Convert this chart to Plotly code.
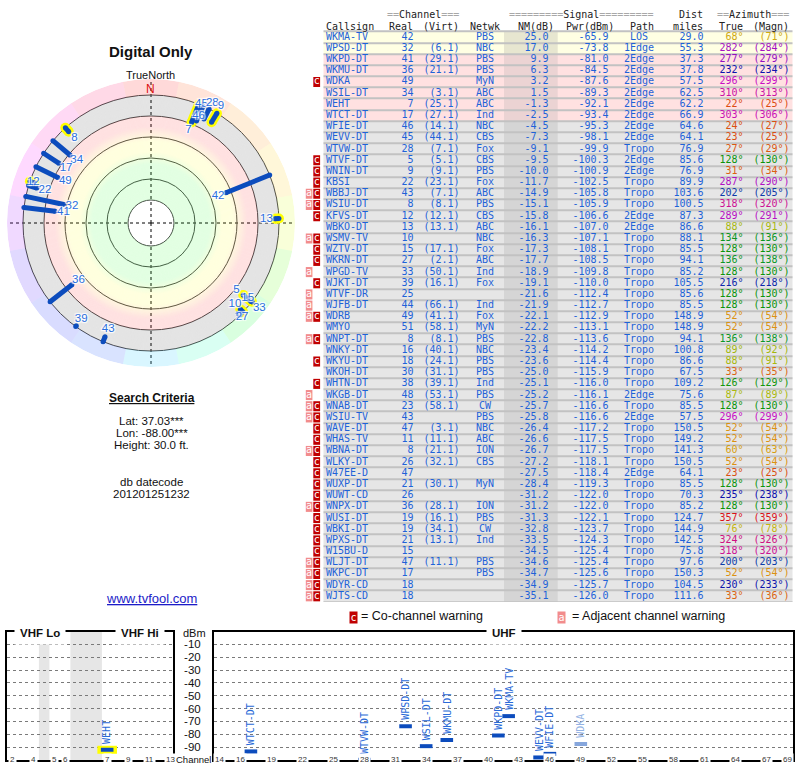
import colorsys
import numpy as np
import plotly.graph_objects as go

W, H = 800, 768
MONO = "DejaVu Sans Mono"
SANS = "Liberation Sans"

# ---- station table (one entry per row) ----
callsign = ["WKMA-TV", "WPSD-DT", "WKPD-DT", "WKMU-DT", "WDKA", "WSIL-DT", "WEHT", "WTCT-DT",
            "WFIE-DT", "WEVV-DT", "WTVW-DT", "WTVF-DT", "WNIN-DT", "KBSI", "WBBJ-DT", "WSIU-DT",
            "KFVS-DT", "WBKO-DT", "WSMV-TV", "WZTV-DT", "WKRN-DT", "WPGD-TV", "WJKT-DT", "WTVF-DR",
            "WJFB-DT", "WDRB", "WMYO", "WNPT-DT", "WNKY-DT", "WKYU-DT", "WKOH-DT", "WHTN-DT",
            "WKGB-DT", "WNAB-DT", "WSIU-TV", "WAVE-DT", "WHAS-TV", "WBNA-DT", "WLKY-DT", "W47EE-D",
            "WUXP-DT", "WUWT-CD", "WNPX-DT", "WUSI-DT", "WBKI-DT", "WPXS-DT", "W15BU-D", "WLJT-DT",
            "WKPC-DT", "WDYR-CD", "WJTS-CD"]
real_ch = [42, 32, 41, 36, 49, 34, 7, 17, 46, 45, 28, 5, 9, 22, 43, 8, 12, 13, 10, 15, 27, 33, 39, 25,
           44, 49, 51, 8, 16, 18, 30, 38, 48, 23, 43, 47, 11, 8, 26, 47, 21, 26, 36, 19, 19, 21, 15, 47,
           17, 18, 18]
virt_ch = ["", "6.1", "29.1", "21.1", "", "3.1", "25.1", "27.1", "14.1", "44.1", "7.1", "5.1", "9.1",
           "23.1", "7.1", "8.1", "12.1", "13.1", "", "17.1", "2.1", "50.1", "16.1", "", "66.1", "41.1",
           "58.1", "8.1", "40.1", "24.1", "31.1", "39.1", "53.1", "58.1", "", "3.1", "11.1", "21.1",
           "32.1", "", "30.1", "", "28.1", "16.1", "34.1", "13.1", "", "11.1", "", "", ""]
network = ["PBS", "NBC", "PBS", "PBS", "MyN", "ABC", "ABC", "Ind", "NBC", "CBS", "Fox", "CBS", "PBS",
           "Fox", "ABC", "PBS", "CBS", "ABC", "NBC", "Fox", "ABC", "Ind", "Fox", "", "Ind", "Fox", "MyN",
           "PBS", "NBC", "PBS", "PBS", "Ind", "PBS", "CW", "PBS", "NBC", "ABC", "ION", "CBS", "", "MyN",
           "", "ION", "PBS", "CW", "Ind", "", "PBS", "PBS", "", ""]
nm_db = [25.0, 17.0, 9.9, 6.3, 3.2, 1.5, -1.3, -2.5, -4.5, -7.3, -9.1, -9.5, -10.0, -11.7, -14.9, -15.1,
         -15.8, -16.1, -16.3, -17.3, -17.7, -18.9, -19.1, -21.6, -21.9, -22.1, -22.2, -22.8, -23.4, -23.6,
         -25.0, -25.1, -25.2, -25.7, -25.8, -26.4, -26.6, -26.7, -27.2, -27.5, -28.4, -31.2, -31.2, -31.3,
         -32.8, -33.5, -34.5, -34.6, -34.7, -34.9, -35.1]
pwr_dbm = [-65.9, -73.8, -81.0, -84.5, -87.6, -89.3, -92.1, -93.4, -95.3, -98.1, -99.9, -100.3, -100.9,
           -102.5, -105.8, -105.9, -106.6, -107.0, -107.1, -108.1, -108.5, -109.8, -110.0, -112.4, -112.7,
           -112.9, -113.1, -113.6, -114.2, -114.4, -115.9, -116.0, -116.1, -116.6, -116.6, -117.2, -117.5,
           -117.5, -118.1, -118.4, -119.3, -122.0, -122.0, -122.1, -123.7, -124.3, -125.4, -125.4, -125.6,
           -125.7, -126.0]
path = ["LOS", "1Edge", "2Edge", "2Edge", "2Edge", "2Edge", "2Edge", "2Edge", "2Edge", "2Edge", "Tropo",
        "2Edge", "2Edge", "Tropo", "Tropo", "Tropo", "2Edge", "2Edge", "Tropo", "Tropo", "Tropo", "Tropo",
        "Tropo", "Tropo", "Tropo", "Tropo", "Tropo", "Tropo", "Tropo", "Tropo", "Tropo", "Tropo", "2Edge",
        "Tropo", "2Edge", "Tropo", "Tropo", "Tropo", "Tropo", "2Edge", "Tropo", "Tropo", "Tropo", "Tropo",
        "Tropo", "Tropo", "Tropo", "Tropo", "Tropo", "Tropo", "Tropo"]
dist_mi = [29.0, 55.3, 37.3, 37.8, 57.5, 62.5, 62.2, 66.9, 64.6, 64.1, 76.9, 85.6, 76.9, 89.9, 103.6,
           100.5, 87.3, 86.6, 88.1, 85.5, 94.1, 85.2, 105.5, 85.6, 85.5, 148.9, 148.9, 94.1, 100.8, 86.6,
           67.5, 109.2, 75.6, 85.5, 57.5, 150.5, 149.2, 141.3, 150.5, 64.1, 85.5, 70.3, 85.2, 124.7, 144.9,
           142.5, 75.8, 97.6, 150.3, 104.5, 111.6]
az_true = [68, 282, 277, 232, 296, 310, 22, 303, 24, 23, 27, 128, 31, 287, 202, 318, 289, 88, 134, 128,
           136, 128, 216, 128, 128, 52, 52, 136, 89, 88, 33, 126, 87, 128, 296, 52, 52, 60, 52, 23, 128,
           235, 128, 357, 76, 324, 318, 200, 52, 230, 33]
az_magn = [71, 284, 279, 234, 299, 313, 25, 306, 27, 25, 29, 130, 34, 290, 205, 320, 291, 91, 136, 130,
           138, 130, 218, 130, 130, 54, 54, 138, 92, 91, 35, 129, 89, 130, 299, 54, 54, 63, 54, 25, 130,
           238, 130, 359, 78, 326, 320, 203, 54, 233, 36]
warning = ["", "", "", "", "c", "", "", "", "", "", "", "c", "c", "c", "ac", "ac", "c", "", "ac", "c",
           "c", "a", "c", "a", "a", "ac", "", "ac", "", "c", "", "c", "a", "ac", "ac", "c", "c", "ac", "c",
           "c", "c", "c", "ac", "c", "c", "c", "c", "ac", "ac", "ac", "ac"]

# ---- axis ticks ----
vhf_ticks = [2, 4, 5, 6, 7, 9, 11, 13]
uhf_ticks = [14, 16, 19, 22, 25, 28, 31, 34, 37, 40, 43, 46, 49, 52, 55, 58, 61, 64, 67, 69]
dbm_ticks = [-10, -20, -30, -40, -50, -60, -70, -80, -90]
nm_rings = [80, 60, 40, 20, 0, -20]

# radar label placement for crowded clusters (radial value, by channel); others sit just inside the bar
label_r = {45: 21, 28: 26.7, 9: 27.6, 46: 9.5, 7: -6.7, 33: 29, 27: 23, 15: 15, 10: 9.2, 5: 1.4, 12: 16.6}

n = len(callsign)
rows = list(range(n))
BLUE = "#1e62d8"
BAR_BLUE = "#0c4cbd"


def px(x):
    return x / W


def py(y):
    return 1 - y / H


def tint(rgb, a=0.14):
    # translucent colour that looks like rgb over white, so grid lines stay visible
    c = [int(max(0, min(255, round(255 - (255 - v) / a)))) for v in rgb]
    return f"rgba({c[0]},{c[1]},{c[2]},{a})"


HUE_AZ = [0, 23, 52, 68, 88, 128, 200, 235, 282, 318, 357, 360]
HUE_DEG = [0, 18, 38, 48, 66, 120, 222, 240, 290, 318, 358, 360]


def az_hue(az):
    return float(np.interp(az % 360, HUE_AZ, HUE_DEG)) / 360.0


def az_color(az):
    h = az_hue(az)
    v = float(np.interp(h * 360, [0, 40, 60, 120, 240, 300, 360], [0.86, 0.86, 0.74, 0.58, 0.68, 0.78, 0.86]))
    r, g, b = colorsys.hsv_to_rgb(h, 0.92, v)
    return f"rgb({int(r*255)},{int(g*255)},{int(b*255)})"


def row_class(nm):
    if nm >= 15:
        return "yellow"
    if nm >= -3:
        return "pink"
    return "gray"


ROW_FILL = {"yellow": "#FFFFE3", "pink": "#FFE1E1", "gray": "#E6E6E6"}
NM_FILL = {"yellow": "#E7E6D0", "pink": "#EBD3D3", "gray": "#D5D5D5"}

fig = go.Figure()
skip = dict(hoverinfo="skip", showlegend=False)

# ================= table =================
cls = [row_class(v) for v in nm_db]
fig.add_trace(go.Bar(orientation="h", y=rows, x=[469] * n, base=323.5, width=1,
                     marker=dict(color=[ROW_FILL[c] for c in cls], line_width=0),
                     xaxis="x", yaxis="y", **skip))
fig.add_trace(go.Bar(orientation="h", y=rows, x=[53.7] * n, base=504, width=1,
                     marker=dict(color=[NM_FILL[c] for c in cls], line_width=0),
                     xaxis="x", yaxis="y", **skip))
fig.add_trace(go.Bar(orientation="h", y=[i - 0.5 for i in range(n + 1)], x=[469] * (n + 1), base=323.5,
                     width=0.09, marker=dict(color="#C2C2C2", line_width=0), xaxis="x", yaxis="y", **skip))

a_rows = [i for i in rows if "a" in warning[i]]
c_rows = [i for i in rows if "c" in warning[i]]
fig.add_trace(go.Bar(orientation="h", y=a_rows, x=[6.6] * len(a_rows), base=305.8, width=0.9,
                     marker=dict(color="#F28C8C", line_width=0), xaxis="x", yaxis="y", **skip))
fig.add_trace(go.Bar(orientation="h", y=c_rows, x=[6.8] * len(c_rows), base=313.3, width=0.9,
                     marker=dict(color="#C00000", line_width=0), xaxis="x", yaxis="y", **skip))
for rr, letter, xc in [(a_rows, "a", 309.1), (c_rows, "c", 316.7)]:
    fig.add_trace(go.Scatter(x=[xc] * len(rr), y=rr, mode="text", text=[letter] * len(rr),
                             textposition="middle center", textfont=dict(family=MONO, size=10, color="white"),
                             xaxis="x", yaxis="y", cliponaxis=False, **skip))


def text_col(x, texts, pos, colors=BLUE):
    fig.add_trace(go.Scatter(x=[x] * n, y=rows, mode="text", text=texts, textposition=pos,
                             textfont=dict(family=MONO, size=10, color=colors),
                             xaxis="x", yaxis="y", cliponaxis=False, **skip))


text_col(326, callsign, "middle right")
text_col(413.5, [str(c) for c in real_ch], "middle left")
text_col(459.5, [f"({v})" if v else "" for v in virt_ch], "middle left")
text_col(485, network, "middle center")
text_col(548.5, [f"{v:.1f}" for v in nm_db], "middle left")
text_col(608.5, [f"{v:.1f}" for v in pwr_dbm], "middle left")
text_col(639, path, "middle center")
text_col(703.5, [f"{v:.1f}" for v in dist_mi], "middle left")
text_col(743.5, [f"{v}°" for v in az_true], "middle left", [az_color(v) for v in az_true])
text_col(789.5, [f"({v}°)" for v in az_magn], "middle left", [az_color(v) for v in az_true])

annotations = []


def eq(k):
    return f"<span style='color:#a8a8a8'>{'=' * k}</span>"


header = [
    (459.5, -2, eq(2) + "Channel" + eq(3), "right"),
    (581.5, -2, eq(9) + "Signal" + eq(9), "center"),
    (703.5, -2, "Dist", "right"),
    (789.5, -2, eq(2) + "Azimuth" + eq(3), "right"),
    (325, -1, "Callsign", "left"),
    (413.5, -1, "Real", "right"),
    (459.5, -1, "(Virt)", "right"),
    (485, -1, "Netwk", "center"),
    (555, -1, "NM(dB)", "right"),
    (615, -1, "Pwr(dBm)", "right"),
    (655, -1, "Path", "right"),
    (703.5, -1, "miles", "right"),
    (743.5, -1, "True", "right"),
    (789.5, -1, "(Magn)", "right"),
]
for x, y, t, anc in header:
    annotations.append(dict(x=x, y=y, xref="x", yref="y", text=t, xanchor=anc, yanchor="middle",
                            showarrow=False, borderpad=0, font=dict(family=MONO, size=10, color="#222")))

# ================= polar plot =================
# r = -NM; white centre inside NM 80, coloured bands out to NM -20, hue ring beyond
band_nm = [-20, -0.01, 0, 10, 24, 34, 46, 80]
band_rgb = [(228, 228, 228), (228, 228, 228), (255, 225, 225), (255, 225, 225), (255, 255, 222),
            (255, 255, 222), (226, 255, 226), (226, 255, 226)]
ring_top = np.arange(80, -20, -1)
ring_cols = []
for t in ring_top:
    mid = t - 0.5
    rgb = [np.interp(mid, band_nm, [c[k] for c in band_rgb]) for k in range(3)]
    ring_cols.append(tint(rgb))
fig.add_trace(go.Barpolar(r=[1] * len(ring_top), base=[-t for t in ring_top], theta=[0] * len(ring_top),
                          width=[360] * len(ring_top), marker=dict(color=ring_cols, line_width=0),
                          subplot="polar", **skip))

wedge_az = np.arange(0, 360, 22.5)
wedge_cols = []
for a in wedge_az:
    r, g, b = colorsys.hsv_to_rgb(az_hue(a), 0.15, 1.0)
    wedge_cols.append(tint((r * 255, g * 255, b * 255), 0.18))
fig.add_trace(go.Barpolar(r=[15.2] * len(wedge_az), base=[20] * len(wedge_az), theta=wedge_az,
                          width=[22.5] * len(wedge_az), marker=dict(color=wedge_cols, line_width=0),
                          subplot="polar", **skip))

shown = [i for i in rows if nm_db[i] > -20]
vhf_polar = [i for i in shown if real_ch[i] <= 13]


def seg(idx):
    rr, tt = [], []
    for i in idx:
        rr += [-nm_db[i], 20, None]
        tt += [az_true[i], az_true[i], None]
    return rr, tt


rr, tt = seg(vhf_polar)
fig.add_trace(go.Scatterpolar(r=rr, theta=tt, mode="lines+markers", line=dict(color="#FFFF00", width=10),
                              marker=dict(size=10, color="#FFFF00"), subplot="polar", **skip))
rr, tt = seg(shown)
fig.add_trace(go.Scatterpolar(r=rr, theta=tt, mode="lines+markers", line=dict(color=BAR_BLUE, width=5),
                              marker=dict(size=5, color=BAR_BLUE), subplot="polar", **skip))
halo = "1px 1px 1px #fff, -1px -1px 1px #fff, 1px -1px 1px #fff, -1px 1px 1px #fff"
lab_r = [label_r.get(real_ch[i], -nm_db[i] - 8) for i in shown]
fig.add_trace(go.Scatterpolar(r=lab_r, theta=[az_true[i] for i in shown],
                              mode="text", text=[str(real_ch[i]) for i in shown],
                              textfont=dict(family=SANS, size=11.5, color="#2a6fe0", shadow=halo),
                              subplot="polar", **skip))

# ================= spectrum panels =================


def vhf_slot(ch):
    if ch <= 4:
        return ch - 2
    if ch <= 6:
        return ch - 1
    return ch + 2


spec = [i for i in rows if pwr_dbm[i] >= -100]
spec_vhf = [i for i in spec if real_ch[i] <= 13]
spec_uhf = [i for i in spec if real_ch[i] >= 14]


def bar_col(i):
    return "#86a6dc" if "c" in warning[i] else BAR_BLUE


def lab_col(i):
    return "#93b2e4" if "c" in warning[i] else "#2a6ad8"


fig.add_trace(go.Scatter(x=[vhf_slot(real_ch[i]) for i in spec_vhf], y=[pwr_dbm[i] for i in spec_vhf],
                         mode="markers", marker=dict(symbol="line-ew", size=14, line=dict(width=8, color="#FFFF00")),
                         xaxis="x2", yaxis="y2", cliponaxis=False, **skip))
fig.add_trace(go.Scatter(x=[vhf_slot(real_ch[i]) for i in spec_vhf], y=[pwr_dbm[i] for i in spec_vhf],
                         mode="markers",
                         marker=dict(symbol="line-ew", size=9, line=dict(width=4, color=[bar_col(i) for i in spec_vhf])),
                         xaxis="x2", yaxis="y2", cliponaxis=False, **skip))
fig.add_trace(go.Scatter(x=[real_ch[i] for i in spec_uhf], y=[pwr_dbm[i] for i in spec_uhf], mode="markers",
                         marker=dict(symbol="line-ew", size=9, line=dict(width=4, color=[bar_col(i) for i in spec_uhf])),
                         xaxis="x3", yaxis="y3", cliponaxis=False, **skip))

for i in spec_vhf:
    annotations.append(dict(x=vhf_slot(real_ch[i]), y=pwr_dbm[i], xref="x2", yref="y2", text=callsign[i],
                            textangle=-90, xanchor="center", yanchor="bottom", yshift=5, showarrow=False,
                            borderpad=0, font=dict(family=MONO, size=10, color=lab_col(i))))
for i in spec_uhf:
    annotations.append(dict(x=real_ch[i], y=pwr_dbm[i], xref="x3", yref="y3", text=callsign[i],
                            textangle=-90, xanchor="center", yanchor="bottom", yshift=5, showarrow=False,
                            borderpad=0, font=dict(family=MONO, size=10, color=lab_col(i))))

for ch in vhf_ticks:
    annotations.append(dict(x=vhf_slot(ch), y=0, xref="x2", yref="y2 domain", text=str(ch), showarrow=False,
                            xanchor="center", yanchor="middle", bgcolor="white", borderpad=1,
                            font=dict(family=SANS, size=8, color="#333")))
for ch in uhf_ticks:
    annotations.append(dict(x=ch, y=0, xref="x3", yref="y3 domain", text=str(ch), showarrow=False,
                            xanchor="center", yanchor="middle", bgcolor="white", borderpad=1,
                            font=dict(family=SANS, size=8, color="#333")))

for x, t in [(39.5, "VHF Lo"), (139.5, "VHF Hi"), (503.5, "UHF")]:
    annotations.append(dict(x=px(x), y=py(632.5), xref="paper", yref="paper", text=f"<b>{t}</b>",
                            xanchor="center", yanchor="middle", showarrow=False, bgcolor="white", borderpad=5,
                            font=dict(family=SANS, size=11.5, color="#111")))

# ================= free text =================
free = [
    (151, 51.5, "<b>Digital Only</b>", 15, "#111"),
    (150, 74.5, "TrueNorth", 11, "#111"),
    (150, 89, "N", 12, "#dd1111"),
    (151.5, 397.5, "<b><u>Search Criteria</u></b>", 12, "#111"),
    (151.5, 420.5, "Lat: 37.03***", 11.5, "#111"),
    (151.5, 432.5, "Lon: -88.00***", 11.5, "#111"),
    (151.5, 444.5, "Height: 30.0 ft.", 11.5, "#111"),
    (151.5, 481.5, "db datecode", 11.5, "#111"),
    (151.5, 493.5, "201201251232", 11.5, "#111"),
    (151.5, 598, "<u>www.tvfool.com</u>", 13, "#1c1cc8"),
    (194, 633, "dBm", 11, "#111"),
    (193.5, 759, "Channel", 9.5, "#111"),
]
for x, y, t, s, c in free:
    annotations.append(dict(x=px(x), y=py(y), xref="paper", yref="paper", text=t, showarrow=False,
                            xanchor="center", yanchor="middle", borderpad=0, font=dict(family=SANS, size=s, color=c)))

# legend boxes
annotations.append(dict(x=px(353.3), y=py(623.5), xref="paper", yref="paper", text="c", showarrow=False,
                        xanchor="center", bgcolor="#C00000", width=7, height=11, borderpad=0,
                        font=dict(family=MONO, size=10, color="white")))
annotations.append(dict(x=px(561), y=py(623.5), xref="paper", yref="paper", text="a", showarrow=False,
                        xanchor="center", bgcolor="#F28C8C", width=7, height=11, borderpad=0,
                        font=dict(family=MONO, size=10, color="white")))
annotations.append(dict(x=px(360), y=py(623.5), xref="paper", yref="paper", text="= Co-channel warning",
                        showarrow=False, xanchor="left", borderpad=0, font=dict(family=SANS, size=12.5, color="#111")))
annotations.append(dict(x=px(571), y=py(623.5), xref="paper", yref="paper", text="= Adjacent channel warning",
                        showarrow=False, xanchor="left", borderpad=0, font=dict(family=SANS, size=12.5, color="#111")))

# VHF band gaps
shapes = [dict(type="rect", xref="x2", yref="y2 domain", x0=x0, x1=x1, y0=0, y1=1, layer="below",
               fillcolor="#E6E6E6", line_width=0) for x0, x1 in [(2.5, 3.5), (5.5, 8.5)]]

frame = dict(showline=True, mirror=True, linecolor="black", linewidth=2, zeroline=False, ticks="")
grid_y = dict(range=[-100, 0], tickvals=dbm_ticks, showgrid=True, gridcolor="#7a7a7a", griddash="dot",
              gridwidth=1, domain=[py(759.9), py(631.5)], **frame)

fig.update_layout(
    width=W, height=H, margin=dict(l=0, r=0, t=0, b=0), autosize=False,
    paper_bgcolor="white", plot_bgcolor="white", showlegend=False, barmode="overlay",
    xaxis=dict(domain=[px(300), 1], range=[300, 800], visible=False, fixedrange=True),
    yaxis=dict(domain=[py(601.9), py(9.34)], range=[50.5, -2.5], visible=False, fixedrange=True),
    xaxis2=dict(domain=[px(7), px(173)], range=[-0.54, 15.27], showgrid=False, showticklabels=False,
                anchor="y2", **frame),
    yaxis2=dict(anchor="x2", showticklabels=False, **grid_y),
    xaxis3=dict(domain=[px(214), px(793)], range=[13.42, 69.58], showgrid=False, showticklabels=False,
                anchor="y3", **frame),
    yaxis3=dict(anchor="x3", showticklabels=True, ticktext=[str(v) for v in dbm_ticks],
                ticklabelstandoff=9, tickfont=dict(family=SANS, size=11.5, color="#111"), **grid_y),
    polar=dict(
        domain=dict(x=[px(7), px(295)], y=[py(367), py(79)]),
        bgcolor="white",
        radialaxis=dict(range=[-101.9, 35.2], tickvals=[-v for v in nm_rings], showticklabels=False,
                        ticks="", showline=False, gridcolor="#4a4a4a", gridwidth=1),
        angularaxis=dict(rotation=90, direction="clockwise", tickvals=[0, 90, 180, 270], showticklabels=False,
                         ticks="", showline=False, gridcolor="black", griddash="dot", gridwidth=1),
    ),
    annotations=annotations,
    shapes=shapes,
)

# drop the page's default body margin so the 800x768 figure fills the window exactly
fig.write_html("out.html", config={"displayModeBar": False},
               post_script="document.body.style.margin='0px';")
